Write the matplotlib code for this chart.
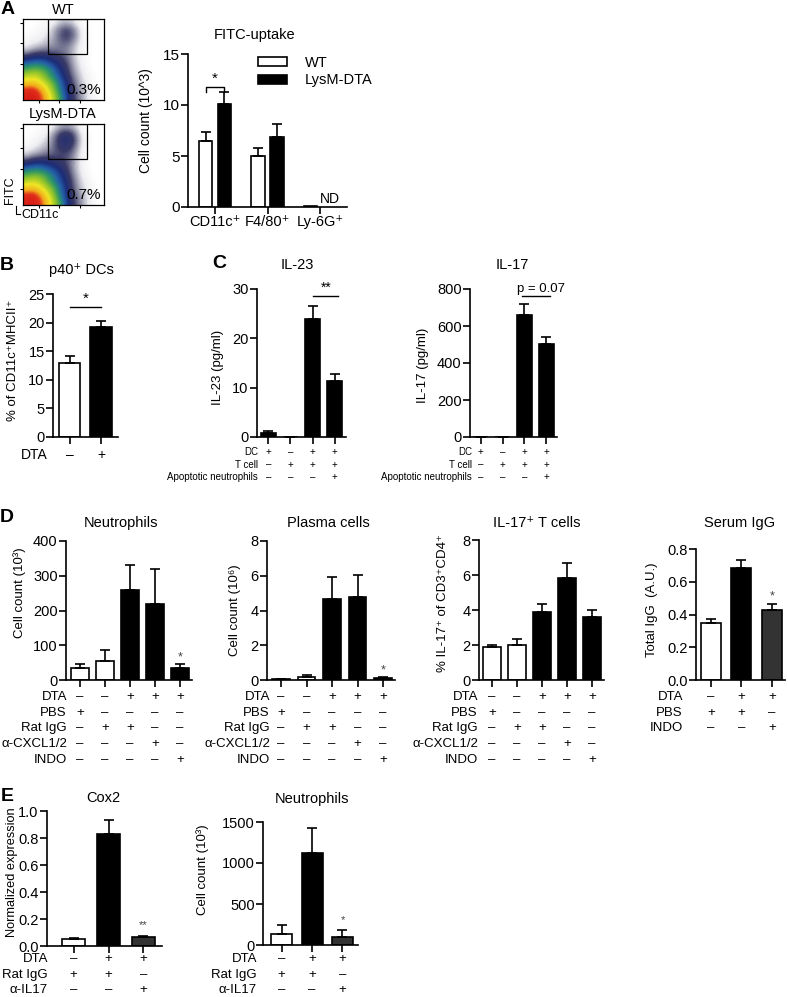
import matplotlib
matplotlib.use('Agg')
import matplotlib.pyplot as plt
import matplotlib.transforms as mtransforms
from matplotlib.colors import LinearSegmentedColormap
from matplotlib.patches import Rectangle
import numpy as np

plt.rcParams['font.family'] = ['Liberation Sans', 'DejaVu Sans']

# ---------------- data ----------------
# A: flow density (coarse grid, rows bottom -> top, 0..10)
flow_wt = np.array([
    [9.3, 9.8, 8.8, 7, 5.3, 4, 2.5, 1.5, 1, 0.5, 0.2, 0],
    [8.8, 9.2, 7.8, 6.2, 4.8, 3.5, 2.3, 1.4, 0.9, 0.5, 0.2, 0],
    [6.8, 6.8, 6.2, 5.3, 4.4, 3.2, 2.2, 1.3, 0.7, 0.4, 0.1, 0],
    [5.3, 5.7, 5.3, 4.4, 3.6, 2.7, 1.8, 1.1, 0.6, 0.3, 0.1, 0],
    [4.2, 4.5, 4.4, 4, 3.2, 2.3, 1.6, 0.9, 0.5, 0.2, 0, 0],
    [3, 3.3, 3.3, 2.9, 2.4, 1.9, 1.4, 0.8, 0.4, 0.1, 0, 0],
    [1.5, 1.9, 2, 1.9, 1.7, 1.5, 1.2, 0.7, 0.3, 0.1, 0, 0],
    [0.6, 0.8, 1, 1.1, 1.1, 1.1, 1.0, 0.7, 0.3, 0.1, 0, 0],
    [0.3, 0.4, 0.5, 0.7, 0.9, 1.2, 1.3, 0.9, 0.4, 0.1, 0, 0],
    [0.1, 0.2, 0.3, 0.5, 0.8, 1.3, 1.6, 1.2, 0.5, 0.1, 0, 0],
    [0, 0.1, 0.2, 0.3, 0.7, 1.2, 1.5, 1.1, 0.4, 0.1, 0, 0],
    [0, 0, 0.1, 0.2, 0.3, 0.6, 0.7, 0.5, 0.2, 0, 0, 0],
])
flow_dta = np.array([
    [9.3, 9.8, 8.8, 7, 5.3, 4, 2.5, 1.5, 1, 0.5, 0.2, 0],
    [8.8, 9.2, 7.8, 6.2, 4.8, 3.5, 2.3, 1.4, 0.9, 0.5, 0.2, 0],
    [6.8, 6.8, 6.2, 5.3, 4.4, 3.2, 2.2, 1.3, 0.7, 0.4, 0.1, 0],
    [5.3, 5.7, 5.3, 4.4, 3.6, 2.8, 2.0, 1.2, 0.6, 0.3, 0.1, 0],
    [4.2, 4.5, 4.4, 4, 3.3, 2.5, 1.8, 1.0, 0.5, 0.2, 0, 0],
    [3, 3.3, 3.3, 2.9, 2.5, 2.0, 1.5, 0.9, 0.4, 0.1, 0, 0],
    [1.5, 1.9, 2, 1.9, 1.8, 1.6, 1.4, 0.9, 0.4, 0.1, 0, 0],
    [0.6, 0.8, 1, 1.2, 1.3, 1.4, 1.4, 1.0, 0.4, 0.1, 0, 0],
    [0.3, 0.4, 0.6, 0.8, 1.2, 1.6, 1.8, 1.3, 0.5, 0.1, 0, 0],
    [0.1, 0.2, 0.4, 0.6, 1.1, 1.8, 2.1, 1.6, 0.6, 0.2, 0, 0],
    [0, 0.1, 0.2, 0.4, 0.9, 1.6, 1.9, 1.4, 0.5, 0.1, 0, 0],
    [0, 0, 0.1, 0.2, 0.4, 0.8, 0.9, 0.7, 0.3, 0, 0, 0],
])
a_cats = ['CD11c\u207a', 'F4/80\u207a', 'Ly-6G\u207a']
a_wt = [6.5, 5.0, 0.1]
a_wt_sem = [0.9, 0.8, 0.0]
a_dta = [10.1, 6.9]
a_dta_sem = [1.2, 1.2]

# B
b_vals = [13.0, 19.2]
b_sem = [1.1, 1.1]
b_dta = ['\u2013', '+']

# C
c_il23 = [0.9, 0.0, 24.0, 11.3]
c_il23_sem = [0.4, 0.0, 2.5, 1.5]
c_il17 = [0.0, 0.0, 660, 503]
c_il17_sem = [0.0, 0.0, 60, 37]
c_rows = ['DC', 'T cell', 'Apoptotic neutrophils']
c_table = [['+', '\u2013', '+', '+'],
           ['\u2013', '+', '+', '+'],
           ['\u2013', '\u2013', '\u2013', '+']]

# D
d_neut = [35, 55, 260, 220, 35]
d_neut_sem = [10, 30, 72, 98, 10]
d_plasma = [0.05, 0.2, 4.65, 4.8, 0.12]
d_plasma_sem = [0.02, 0.08, 1.3, 1.25, 0.03]
d_il17t = [1.9, 2.0, 3.9, 5.85, 3.6]
d_il17t_sem = [0.1, 0.35, 0.45, 0.85, 0.4]
d_igg = [0.35, 0.685, 0.43]
d_igg_sem = [0.025, 0.045, 0.035]
d_rows = ['DTA', 'PBS', 'Rat IgG', '\u03b1-CXCL1/2', 'INDO']
d_table = [['\u2013', '\u2013', '+', '+', '+'],
           ['+', '\u2013', '\u2013', '\u2013', '\u2013'],
           ['\u2013', '+', '+', '\u2013', '\u2013'],
           ['\u2013', '\u2013', '\u2013', '+', '\u2013'],
           ['\u2013', '\u2013', '\u2013', '\u2013', '+']]
d_igg_rows = ['DTA', 'PBS', 'INDO']
d_igg_table = [['\u2013', '+', '+'],
               ['+', '+', '\u2013'],
               ['\u2013', '\u2013', '+']]

# E
e_cox2 = [0.055, 0.83, 0.07]
e_cox2_sem = [0.005, 0.1, 0.005]
e_neut = [135, 1125, 100]
e_neut_sem = [110, 300, 85]
e_rows = ['DTA', 'Rat IgG', '\u03b1-IL17']
e_table = [['\u2013', '+', '+'],
           ['+', '+', '\u2013'],
           ['\u2013', '\u2013', '+']]

WHITE, BLACK, DARK = 'white', 'black', '#333333'

# ---------------- helpers ----------------
W, H = 788, 997
fig = plt.figure(figsize=(W / 100, H / 100), dpi=100)
PX = mtransforms.Affine2D().scale(1.0 / W, -1.0 / H).translate(0, 1) + fig.transFigure


def px_axes(x0, y0, x1, y1):
    return fig.add_axes([x0 / W, 1 - y1 / H, (x1 - x0) / W, (y1 - y0) / H])


def ftext(x, y, s, **kw):
    kw.setdefault('ha', 'center')
    kw.setdefault('va', 'center')
    return fig.text(x, y, s, transform=PX, **kw)


def bar_axes(box, xlim, ymax, yticks, fmt=None, fs=10.5):
    ax = px_axes(*box)
    ax.set_xlim(*xlim)
    ax.set_ylim(0, ymax)
    for s in ['top', 'right']:
        ax.spines[s].set_visible(False)
    for s in ['left', 'bottom']:
        ax.spines[s].set_linewidth(1.2)
    ax.set_yticks(yticks)
    if fmt:
        ax.set_yticklabels([fmt % t for t in yticks])
    ax.tick_params(direction='out', length=5, width=1.2, labelsize=fs, pad=1)
    return ax


def bars(ax, x, vals, sem, colors, width):
    ax.bar(x, vals, width, color=colors, edgecolor='black', linewidth=1.2, zorder=2)
    ax.errorbar(x, vals, yerr=[np.zeros(len(vals)), sem], fmt='none', ecolor='black',
                elinewidth=1.2, capsize=3.5, capthick=1.2, zorder=3)
    ax.set_xticks(x)
    ax.set_xticklabels([])


def table(ax, labels, rows, y0, dy, lx, fs):
    tr = mtransforms.blended_transform_factory(ax.transData, PX)
    for k, (lab, row) in enumerate(zip(labels, rows)):
        y = y0 + k * dy
        for i, s in enumerate(row):
            ax.text(i, y, s, transform=tr, ha='center', va='center', fontsize=fs)
        ftext(lx, y, lab, ha='right', fontsize=fs)


# ---------------- A: flow plots ----------------
cmap = LinearSegmentedColormap.from_list('flow', [
    (0.0, 'white'), (0.04, '#eeeef2'), (0.09, '#9a9aae'), (0.15, '#3a3a66'),
    (0.22, '#1c2c78'), (0.3, '#2460a8'), (0.38, '#2a9468'), (0.48, '#8cc22c'),
    (0.6, '#eee624'), (0.75, '#f2a81c'), (0.86, '#e2321c'), (1.0, '#d41414')])

for grid, box, title, ty, pct in [(flow_wt, (23, 19, 104, 100), 'WT', 10, '0.3%'),
                                  (flow_dta, (23, 124, 104, 205), 'LysM-DTA', 114, '0.7%')]:
    ax = px_axes(*box)
    ax.imshow(grid, cmap=cmap, vmin=0, vmax=10, origin='lower', extent=[0, 1, 0, 1],
              aspect='auto', interpolation='bicubic')
    ax.add_patch(Rectangle((0.31, 0.57), 0.48, 0.43, fill=False, lw=0.9, ec='black'))
    ax.set_xlim(0, 1)
    ax.set_ylim(0, 1)
    ax.set_xticks([0.2, 0.45, 0.7])
    ax.set_yticks([0.2, 0.45, 0.7, 0.95])
    ax.set_xticklabels([])
    ax.set_yticklabels([])
    ax.tick_params(direction='out', length=2, width=0.8)
    for s in ax.spines.values():
        s.set_linewidth(0.9)
    ax.text(0.96, 0.04, pct, transform=ax.transAxes, ha='right', va='bottom', fontsize=11)
    ftext(63, ty, title, fontsize=10.5)

ftext(10, 190, 'FITC', rotation=90, fontsize=9)
fig.add_artist(plt.Line2D([16 / W, 16 / W, 20 / W], [1 - 206 / H, 1 - 214 / H, 1 - 214 / H],
                          color='black', lw=0.8))
ftext(21, 215, 'CD11c', ha='left', fontsize=9)

# ---------------- A: FITC uptake ----------------
ax = bar_axes((188, 54, 347, 207), (-0.514, 2.514), 15, [0, 5, 10, 15], fs=11)
xa = np.arange(3)
ax.bar(xa - 0.18, a_wt, 0.25, color=WHITE, edgecolor='black', linewidth=1.2, zorder=2, label='WT')
ax.errorbar(xa[:2] - 0.18, a_wt[:2], yerr=[[0, 0], a_wt_sem[:2]], fmt='none', ecolor='black',
            elinewidth=1.2, capsize=3.5, capthick=1.2)
ax.bar(xa[:2] + 0.18, a_dta, 0.25, color=BLACK, edgecolor='black', linewidth=1.2, zorder=2,
       label='LysM-DTA')
ax.errorbar(xa[:2] + 0.18, a_dta, yerr=[[0, 0], a_dta_sem], fmt='none', ecolor='black',
            elinewidth=1.2, capsize=3.5, capthick=1.2)
ax.set_xticks(xa)
ax.set_xticklabels(a_cats, fontsize=10.5)
ax.text(2.18, 0.05, 'ND', ha='center', va='bottom', fontsize=10)
ax.plot([-0.18, -0.18, 0.18, 0.18], [11.3, 11.8, 11.8, 11.3], color='black', lw=1)
ax.text(0.0, 11.9, '*', ha='center', va='bottom', fontsize=11)
ax.legend(frameon=False, loc='upper left', bbox_to_anchor=(252 / W, 1 - 50 / H),
          bbox_transform=fig.transFigure, fontsize=10.5, handlelength=2.0, handleheight=0.6,
          borderaxespad=0, labelspacing=0.25, handletextpad=1.2)
ftext(255, 35, 'FITC-uptake', fontsize=10.5)
ftext(146, 121, 'Cell count (10^3)', rotation=90, fontsize=10)
ftext(8, 10, 'A', fontsize=14, fontweight='bold')

# ---------------- B ----------------
ax = bar_axes((53, 294, 118, 437), (-0.524, 1.54), 25, [0, 5, 10, 15, 20, 25])
bars(ax, np.arange(2), b_vals, b_sem, [WHITE, BLACK], 0.67)
ax.plot([0, 1], [22.7, 22.7], color='black', lw=1)
ax.text(0.5, 22.9, '*', ha='center', va='bottom', fontsize=11)
table(ax, ['DTA'], [b_dta], 455, 0, 48, 10)
ftext(81, 270, 'p40\u207a DCs', fontsize=10.5)
ftext(13, 360, '% of CD11c\u207aMHCII\u207a', rotation=90, fontsize=9.5)
ftext(7, 265, 'B', fontsize=14, fontweight='bold')

# ---------------- C ----------------
ax = bar_axes((257, 289, 346, 437), (-0.52, 3.52), 30, [0, 10, 20, 30])
bars(ax, np.arange(4), c_il23, c_il23_sem, [BLACK] * 4, 0.68)
ax.plot([2, 3.15], [28.6, 28.6], color='black', lw=1)
ax.text(2.6, 28.9, '**', ha='center', va='bottom', fontsize=10)
table(ax, c_rows, c_table, 452, 12.5, 258, 7)
ftext(297, 265, 'IL-23', fontsize=10.5)
ftext(218, 367, 'IL-23 (pg/ml)', rotation=90, fontsize=9.5)
ftext(219, 263, 'C', fontsize=14, fontweight='bold')

ax = bar_axes((470, 289, 557, 437), (-0.48, 3.48), 800, [0, 200, 400, 600, 800])
bars(ax, np.arange(4), c_il17, c_il17_sem, [BLACK] * 4, 0.68)
ax.plot([1.9, 3.16], [762, 762], color='black', lw=1)
ax.text(2.75, 770, 'p = 0.07', ha='center', va='bottom', fontsize=9.5)
table(ax, c_rows, c_table, 452, 12.5, 472, 7)
ftext(512, 265, 'IL-17', fontsize=10.5)
ftext(423, 365, 'IL-17 (pg/ml)', rotation=90, fontsize=9.5)

# ---------------- D ----------------
dcol = [WHITE, WHITE, BLACK, BLACK, BLACK]
x5 = np.arange(5)

ax = bar_axes((66, 541, 192, 680), (-0.56, 4.48), 400, [0, 100, 200, 300, 400])
bars(ax, x5, d_neut, d_neut_sem, dcol, 0.7)
ax.text(4, 48, '*', ha='center', va='bottom', fontsize=9, color='#444444')
table(ax, d_rows, d_table, 697, 15.7, 67, 9.5)
ftext(121, 523, 'Neutrophils', fontsize=10.5)
ftext(20, 593, 'Cell count (10\u00b3)', rotation=90, fontsize=9.5)
ftext(7, 517, 'D', fontsize=14, fontweight='bold')

ax = bar_axes((267, 541, 395, 680), (-0.55, 4.47), 8, [0, 2, 4, 6, 8])
bars(ax, x5, d_plasma, d_plasma_sem, dcol, 0.7)
ax.text(4, 0.2, '*', ha='center', va='bottom', fontsize=9, color='#444444')
table(ax, d_rows, d_table, 697, 15.7, 270, 9.5)
ftext(328, 523, 'Plasma cells', fontsize=10.5)
ftext(235, 610, 'Cell count (10\u2076)', rotation=90, fontsize=9.5)

ax = bar_axes((479, 540, 604, 680), (-0.52, 4.48), 8, [0, 2, 4, 6, 8])
bars(ax, x5, d_il17t, d_il17t_sem, dcol, 0.7)
table(ax, d_rows, d_table, 697, 15.7, 478, 9.5)
ftext(537, 523, 'IL-17\u207a T cells', fontsize=10.5)
ftext(443, 603, '% IL-17\u207a of CD3\u207aCD4\u207a', rotation=90, fontsize=9.5)

ax = bar_axes((696, 549, 785, 680), (-0.49, 2.43), 0.8, [0, 0.2, 0.4, 0.6, 0.8], fmt='%.1f')
bars(ax, np.arange(3), d_igg, d_igg_sem, [WHITE, BLACK, DARK], 0.66)
ax.text(2, 0.475, '*', ha='center', va='bottom', fontsize=9, color='#444444')
table(ax, d_igg_rows, d_igg_table, 697, 15.7, 683, 9.5)
ftext(740, 523, 'Serum IgG', fontsize=10.5)
ftext(652, 610, 'Total IgG  (A.U.)', rotation=90, fontsize=9.5)

# ---------------- E ----------------
ax = bar_axes((47, 811, 162, 946), (-0.76, 2.53), 1.0, [0, 0.2, 0.4, 0.6, 0.8, 1.0], fmt='%.1f')
bars(ax, np.arange(3), e_cox2, e_cox2_sem, [WHITE, BLACK, DARK], 0.66)
ax.text(2, 0.12, '**', ha='center', va='bottom', fontsize=8, color='#444444')
table(ax, e_rows, e_table, 959, 15.6, 48, 9.5)
ftext(103, 798, 'Cox2', fontsize=10.5)
ftext(12, 872, 'Normalized expression', rotation=90, fontsize=9.2)
ftext(7, 796, 'E', fontsize=14, fontweight='bold')

ax = bar_axes((263, 822, 358, 945), (-0.61, 2.51), 1500, [0, 500, 1000, 1500])
bars(ax, np.arange(3), e_neut, e_neut_sem, [WHITE, BLACK, DARK], 0.69)
ax.text(2, 240, '*', ha='center', va='bottom', fontsize=8, color='#444444')
table(ax, e_rows, e_table, 959, 15.6, 257, 9.5)
ftext(312, 799, 'Neutrophils', fontsize=10.5)
ftext(203, 870, 'Cell count (10\u00b3)', rotation=90, fontsize=9.5)

fig.savefig('out.png', dpi=100)
